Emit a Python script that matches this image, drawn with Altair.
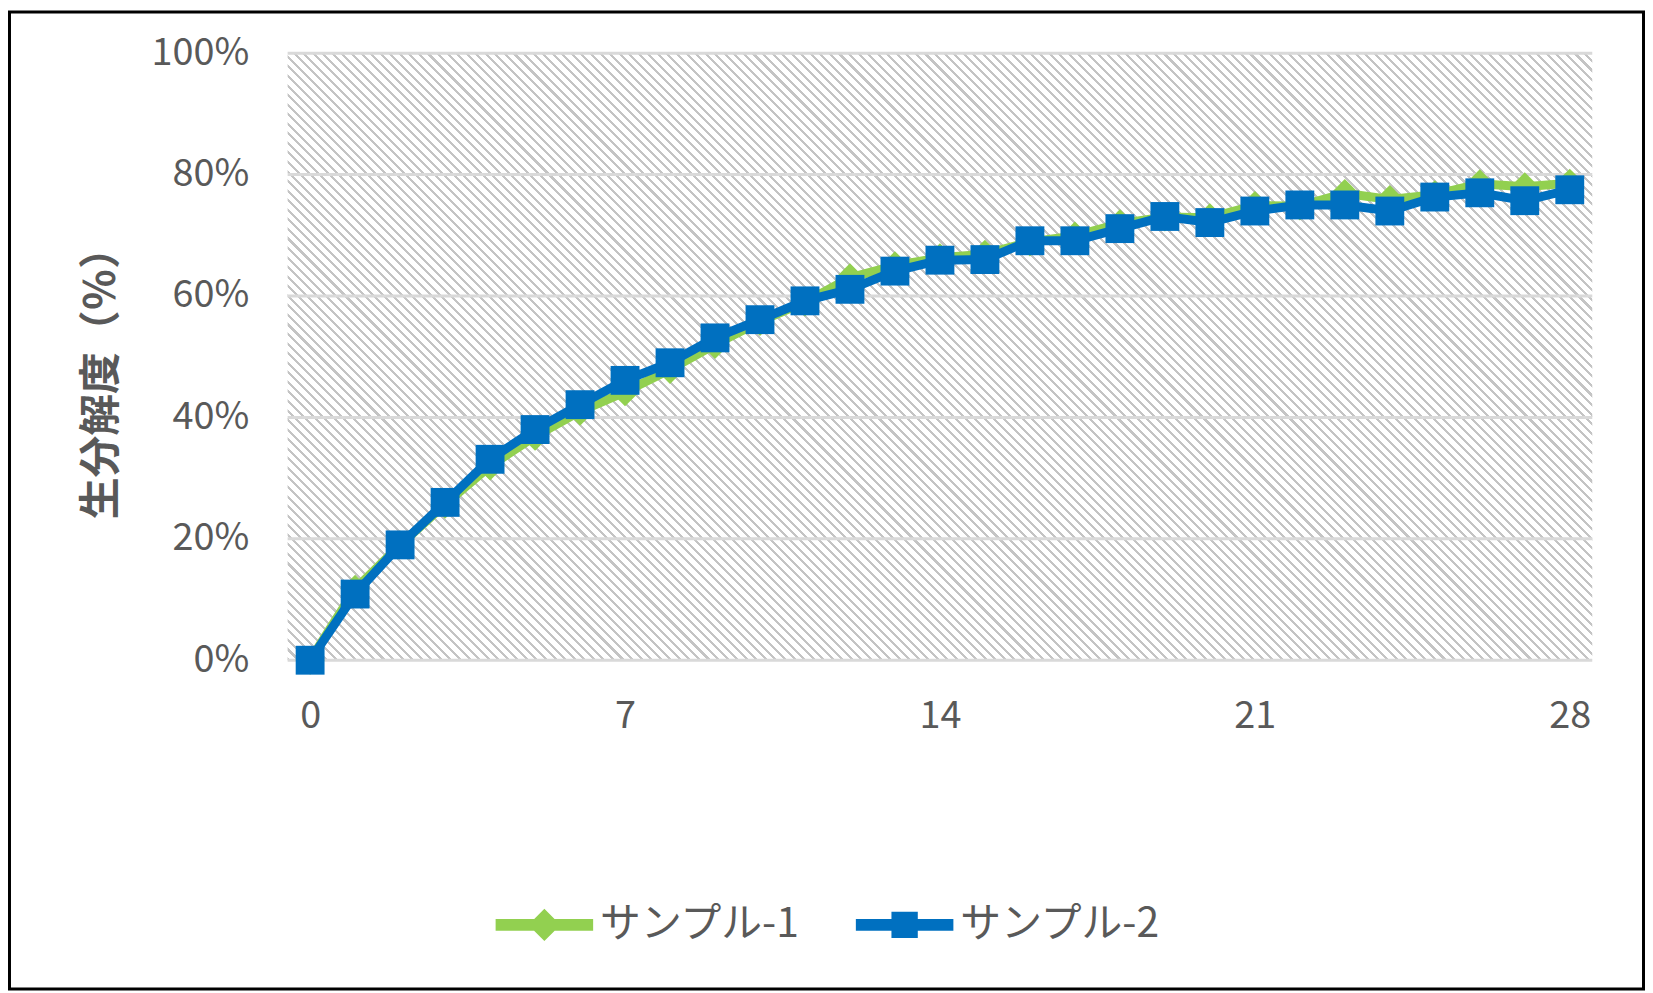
import altair as alt
import pandas as pd

FONT = "Noto Sans CJK JP"
TEXT_COLOR = "#595959"
GRID_COLOR = "#D9D9D9"

DAYS = list(range(29))
SAMPLE_1 = [0, 11.7, 19.0, 25.7, 32.0, 36.9, 41.0, 44.2, 47.9, 52.0, 55.8, 59.0, 63.0, 65.0, 66.3,
            66.9, 68.9, 69.9, 71.9, 73.0, 72.9, 74.9, 74.8, 76.9, 75.9, 76.7, 78.5, 78.0, 78.6]
SAMPLE_2 = [0, 10.9, 19.0, 26.0, 33.1, 38.0, 42.1, 46.1, 49.0, 53.1, 56.1, 59.2, 61.1, 64.1, 65.9,
            66.0, 69.1, 69.1, 71.1, 73.1, 72.1, 74.0, 75.0, 75.0, 74.0, 76.3, 77.0, 75.7, 77.5]
SERIES = ["サンプル-1", "サンプル-2"]
COLORS = ["#92D050", "#0070C0"]
X_TICKS = [0, 7, 14, 21, 28]
Y_TICKS = [0, 20, 40, 60, 80, 100]

W, H = 1311, 610

df = pd.concat(
    [
        pd.DataFrame({"day": DAYS, "value": SAMPLE_1, "series": SERIES[0]}),
        pd.DataFrame({"day": DAYS, "value": SAMPLE_2, "series": SERIES[1]}),
    ],
    ignore_index=True,
)

# diagonal hatch for the plot background, built as a hard-stop gradient
period = 9.6
duty = 0.32
n = round((W + H) / period)
stops = []
for k in range(n):
    stops += [
        alt.GradientStop(offset=k / n, color="#C4C4C4"),
        alt.GradientStop(offset=(k + duty) / n, color="#C4C4C4"),
        alt.GradientStop(offset=(k + duty) / n, color="#FFFFFF"),
        alt.GradientStop(offset=(k + 1) / n, color="#FFFFFF"),
    ]
ga = (W + H) * W / (W * W + H * H)
gb = ga * H / W
hatch = alt.Gradient(gradient="linear", stops=stops, x1=0, y1=1, x2=ga, y2=1 - gb)

x_enc = alt.X(
    "day:Q",
    scale=alt.Scale(domain=[-0.5, 28.5], nice=False, zero=False),
    axis=alt.Axis(
        values=X_TICKS, title="培養期間（日）", grid=False, ticks=False, domain=False,
        labelFontSize=38, labelColor=TEXT_COLOR, labelPadding=57, labelBaseline="middle",
        labelFlush=False, titleFontSize=42, titleFontWeight="bold", titleColor=TEXT_COLOR,
        titleX=643, titleY=741, titleBaseline="middle", titleAlign="center",
    ),
)
y_enc = alt.Y(
    "value:Q",
    scale=alt.Scale(domain=[0, 100], nice=False),
    axis=alt.Axis(
        values=Y_TICKS, labelExpr="datum.value + '%'", title="生分解度（％）", grid=False,
        ticks=False, domain=False, labelFontSize=38, labelColor=TEXT_COLOR, labelPadding=39,
        titleFontSize=42, titleFontWeight="bold", titleColor=TEXT_COLOR,
        titleX=-187, titleY=321, titleBaseline="middle", titleAlign="center", titleAngle=-90,
    ),
)

# legend symbols: a thick line with the series marker in the middle
PATH_1 = "M-1,-0.12L1,-0.12L1,0.12L-1,0.12ZM-0.33,0L0,-0.33L0.33,0L0,0.33Z"
PATH_2 = "M-1,-0.12L1,-0.12L1,0.12L-1,0.12ZM-0.27,-0.27L0.27,-0.27L0.27,0.27L-0.27,0.27Z"


def series_legend(name, path, legend_x):
    return alt.Legend(
        title=None, orient="none", legendX=legend_x, legendY=827, values=[name],
        symbolType=path, symbolSize=9604, symbolStrokeWidth=0, symbolOpacity=1,
        labelFontSize=41, labelColor=TEXT_COLOR, labelFont=FONT, labelOffset=7,
        padding=0, labelLimit=400,
    )


one = pd.DataFrame({"a": [0]})
background = alt.Chart(one).mark_rect(fill=hatch).encode(
    x=alt.value(0), x2=alt.value(W), y=alt.value(0), y2=alt.value(H)
)
grid = alt.Chart(pd.DataFrame({"value": Y_TICKS})).mark_rule(color=GRID_COLOR, strokeWidth=3).encode(y=y_enc)

s1 = alt.Chart(df).transform_filter(alt.datum.series == SERIES[0])
s2 = alt.Chart(df).transform_filter(alt.datum.series == SERIES[1])

line_1 = s1.mark_line(strokeWidth=9, color=COLORS[0]).encode(x=x_enc, y=y_enc)
points_1 = s1.mark_point(filled=True, shape="diamond", size=841, opacity=1).encode(
    x=x_enc, y=y_enc,
    color=alt.Color("series:N", scale=alt.Scale(domain=SERIES, range=COLORS),
                    legend=series_legend(SERIES[0], PATH_1, 209)),
)
line_2 = s2.mark_line(strokeWidth=9, color=COLORS[1]).encode(x=x_enc, y=y_enc)
points_2 = s2.mark_point(filled=True, shape="square", size=841, opacity=1).encode(
    x=x_enc, y=y_enc,
    fill=alt.Fill("series:N", scale=alt.Scale(domain=SERIES[::-1], range=COLORS[::-1]),
                  legend=series_legend(SERIES[1], PATH_2, 571)),
)

frame = alt.Chart(one).mark_rect(fillOpacity=0, stroke="black", strokeWidth=3).encode(
    x=alt.value(-279.5), x2=alt.value(1362.5), y=alt.value(-41.5), y2=alt.value(940.5)
)

chart = (
    alt.layer(background, grid, line_1, points_1, line_2, points_2, frame)
    .properties(
        width=W, height=H, autosize=alt.AutoSizeParams(type="none"),
        padding={"left": 281, "top": 43, "right": 53, "bottom": 332},
    )
    .configure(font=FONT)
    .configure_view(strokeWidth=0)
)

chart.save("out.html", embed_options={"renderer": "svg", "actions": False})
